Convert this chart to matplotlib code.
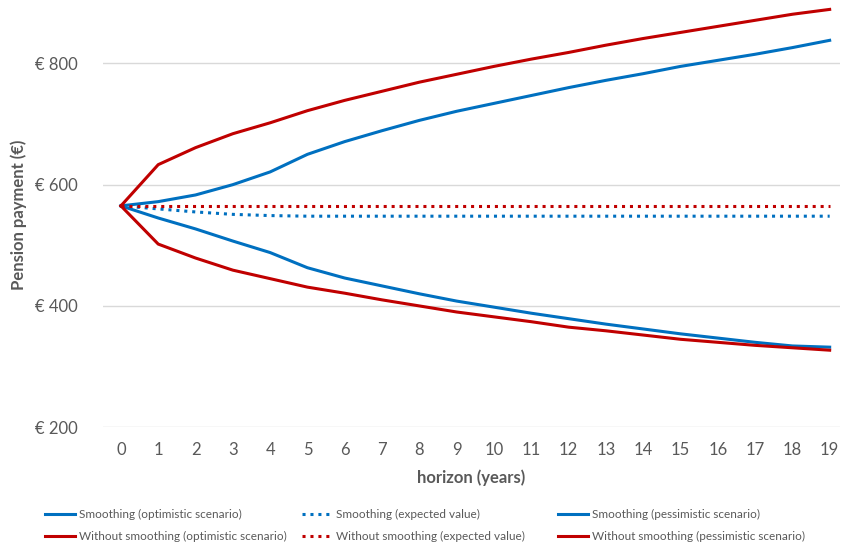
import numpy as np
import matplotlib
matplotlib.use("Agg")
from matplotlib import pyplot as plt

plt.rcParams['font.family'] = ['Lato', 'DejaVu Sans']

years = list(range(20))
smooth_opt = [565, 572, 583, 600, 621, 650, 671, 689, 706, 721, 734, 747, 760, 772, 783, 795, 805, 815, 826, 838]
smooth_exp = [565, 560, 555, 551, 549, 548, 548, 548, 548, 548, 548, 548, 548, 548, 548, 548, 548, 548, 548, 548]
smooth_pes = [565, 545, 527, 507, 488, 463, 446, 433, 420, 408, 398, 388, 379, 370, 362, 354, 347, 340, 334, 332]
nosmooth_opt = [565, 633, 661, 684, 702, 722, 739, 754, 769, 782, 795, 807, 818, 830, 841, 851, 861, 871, 881, 889]
nosmooth_exp = [565] * 20
nosmooth_pes = [565, 502, 479, 459, 445, 431, 421, 410, 400, 390, 382, 374, 365, 359, 352, 345, 340, 335, 331, 327]
yticks = [200, 400, 600, 800]

blue = '#0070C0'
red = '#C00000'
grey = '#595959'

fig = plt.figure(figsize=(8.41, 5.47), dpi=100)
ax = fig.add_axes([0.1225, 0.219, 0.876, 0.776])

lw = 2.2
h1, = ax.plot(years, smooth_opt, color=blue, lw=lw)
h2, = ax.plot(years, smooth_exp, color=blue, lw=lw, ls=(0, (1, 1.6)))
h3, = ax.plot(years, smooth_pes, color=blue, lw=lw)
h4, = ax.plot(years, nosmooth_opt, color=red, lw=lw)
h5, = ax.plot(years, nosmooth_exp, color=red, lw=lw, ls=(0, (1, 1.6)))
h6, = ax.plot(years, nosmooth_pes, color=red, lw=lw)

ax.set_xlim(-0.48, 19.27)
ax.set_ylim(200, 900)
ax.set_xticks(years)
ax.set_yticks(yticks)
ax.set_yticklabels(["€ %d" % v for v in yticks])
ax.grid(axis='y', color='#D9D9D9', lw=1)
ax.set_axisbelow(True)
for s in ax.spines.values():
    s.set_visible(False)
ax.tick_params(length=0, labelsize=12, colors=grey)
ax.tick_params(axis='x', pad=11)
ax.tick_params(axis='y', pad=18)

ax.set_xlabel("horizon (years)", fontsize=12, fontweight='bold', color=grey, labelpad=8)
ax.set_ylabel("Pension payment (€)", fontsize=12, fontweight='bold', color=grey, labelpad=6)

# one legend per column, like the Excel layout
cols = [
    ([h1, h4], ["Smoothing (optimistic scenario)", "Without smoothing (optimistic scenario)"], 45),
    ([h2, h5], ["Smoothing (expected value)", "Without smoothing (expected value)"], 302),
    ([h3, h6], ["Smoothing (pessimistic scenario)", "Without smoothing (pessimistic scenario)"], 558),
]
for hs, labs, x0 in cols:
    leg = fig.legend(hs, labs, loc='upper left', bbox_to_anchor=(x0 / 841, 1 - 509 / 547),
                     frameon=False, fontsize=8.5, handlelength=2.5, handletextpad=0.35,
                     labelspacing=0.95, borderpad=0, borderaxespad=0)
    for t in leg.get_texts():
        t.set_color(grey)

plt.savefig("out.png", dpi=100)
